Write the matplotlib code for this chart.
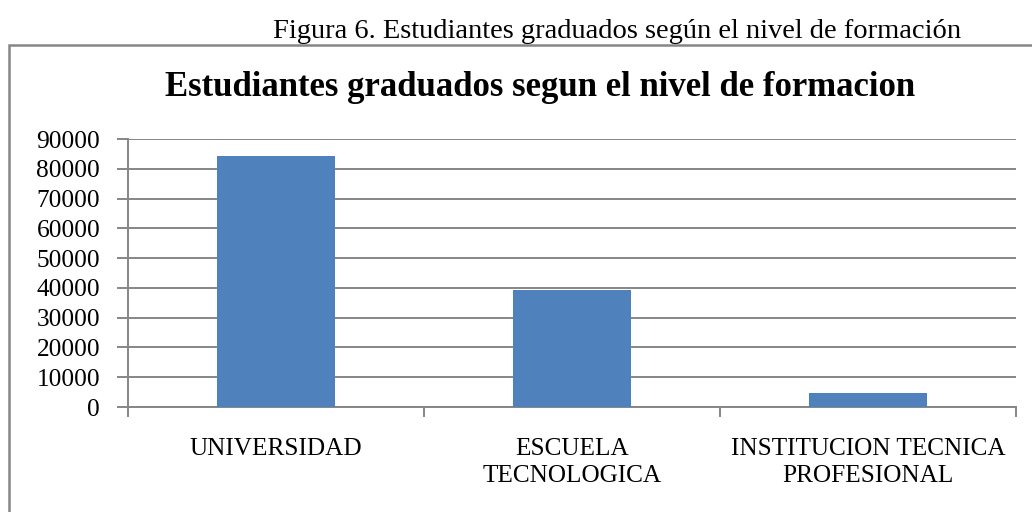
import matplotlib
matplotlib.use("Agg")
import matplotlib.pyplot as plt
from matplotlib.patches import Rectangle

categories = ["UNIVERSIDAD", "ESCUELA\nTECNOLOGICA", "INSTITUCION TECNICA\nPROFESIONAL"]
values = [84400, 39200, 4600]
yticks = [0, 10000, 20000, 30000, 40000, 50000, 60000, 70000, 80000, 90000]

W, H = 1032, 512
plt.rcParams['font.family'] = ['Liberation Serif', 'DejaVu Serif']
fig = plt.figure(figsize=(W/100, H/100), dpi=100)

# outer chart box (clipped at right/bottom)
fig.patches.append(Rectangle((9/W, -0.1), 1.2, (H-45)/H + 0.1, transform=fig.transFigure,
                             fill=False, edgecolor='#868686', linewidth=1.8, zorder=0))

fig.text(617/W, 1 - 32/H, "Figura 6. Estudiantes graduados según el nivel de formación",
         ha='center', va='center', fontsize=20.5)
fig.text(540/W, 1 - 88/H, "Estudiantes graduados segun el nivel de formacion",
         ha='center', va='center', fontsize=25, fontweight='bold')

ax = fig.add_axes([128/W, (H-407)/H, 888/W, (407-139)/H])
x = list(range(len(categories)))
ax.bar(x, values, width=0.4, color='#4F81BD', zorder=3)
ax.set_xlim(-0.5, len(categories) - 0.5)
ax.set_ylim(0, 90000)
ax.set_yticks(yticks)
ax.set_yticklabels([str(v) for v in yticks], fontsize=18.3)
ax.yaxis.grid(True, color='#868686', linewidth=1.4, zorder=0)
for s in ['top', 'right']:
    ax.spines[s].set_visible(False)
for s in ['left', 'bottom']:
    ax.spines[s].set_color('#868686')
    ax.spines[s].set_linewidth(1.4)
ax.set_xticks([i - 0.5 for i in range(len(categories) + 1)])
ax.set_xticklabels([])
ax.set_xticks(x, minor=True)
ax.set_xticklabels(categories, minor=True, fontsize=18.2, linespacing=1.3)
ax.tick_params(axis='x', which='minor', length=0, pad=22)
ax.tick_params(axis='x', which='major', length=7, color='#868686', width=1.4)
ax.tick_params(axis='y', length=8, color='#868686', width=1.4, pad=12)
fig.savefig("out.png", dpi=100)
